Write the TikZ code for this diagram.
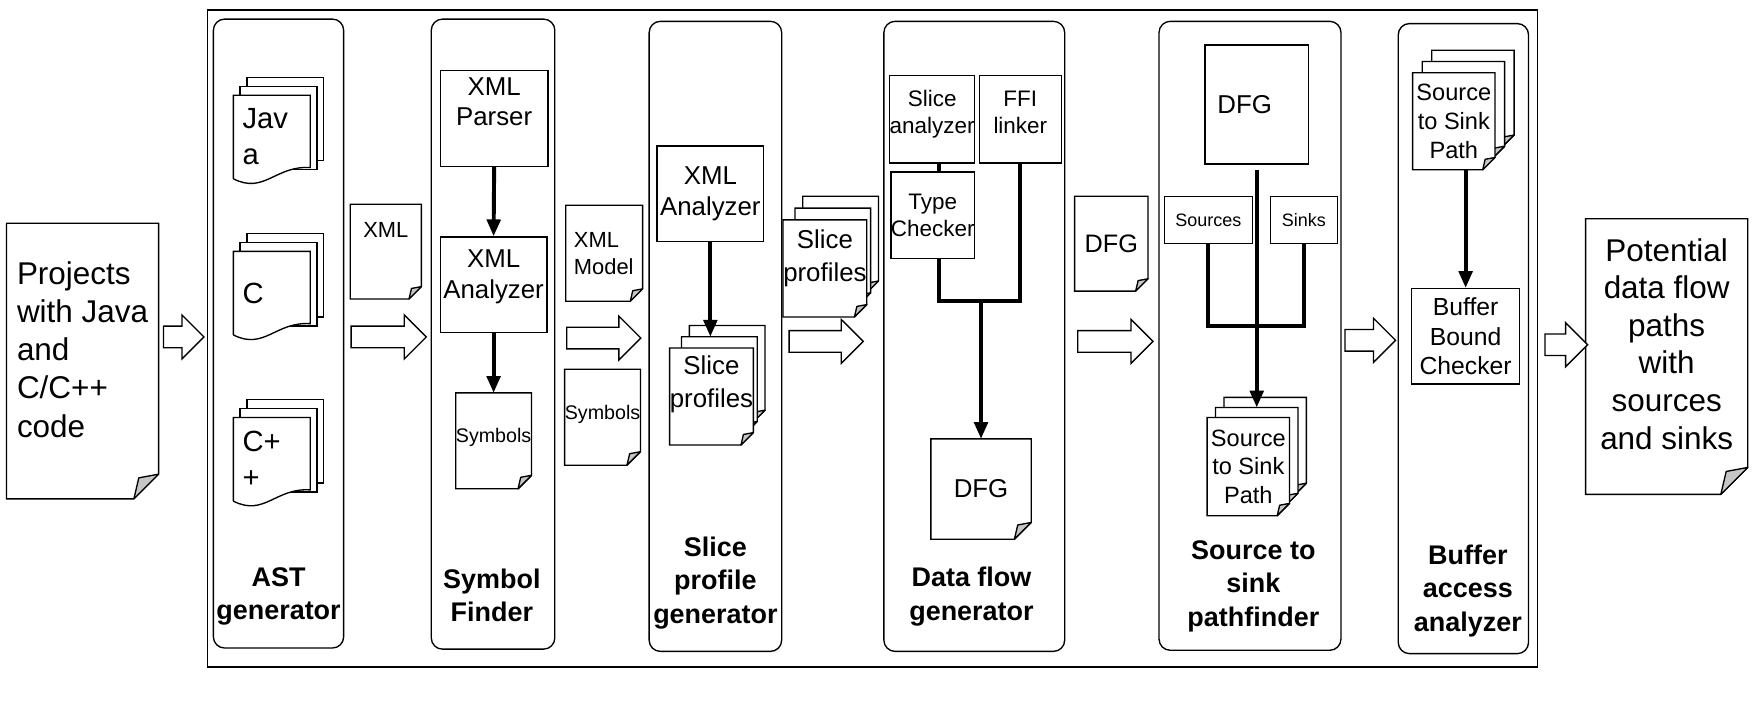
\documentclass[tikz,border=0pt]{standalone}
\usepackage{fontspec}
\setmainfont{Liberation Sans}
\usepackage{tikz}
\tikzset{>=latex}
\usetikzlibrary{
    positioning, % relative placement
    arrows.meta, % arrow tips
    calc, % coordinate arithmetic
    shapes.arrows, % hollow block arrows
    backgrounds % sheets go behind the texts
}
\newcommand{\fz}[2]{\fontsize{#1}{#2}\selectfont}
% sheet with a folded corner, drawn round a node
\newcommand{\notesheet}[2]{%
  \draw[paper] (#1.north west) -- (#1.north east) -- ([yshift=#2]#1.south east)
    -- ([xshift=-#2]#1.south east) -- (#1.south west) -- cycle;
  \draw[fold] ([xshift=-#2]#1.south east) -- ([yshift=#2]#1.south east)
    -- ([xshift=-0.8*#2,yshift=0.85*#2]#1.south east) -- cycle;
}
% sheet with a wavy lower edge
\newcommand{\wavesheet}[1]{%
  \draw[paper] (#1.south west) -- (#1.north west) -- (#1.north east) -- ([yshift=10pt]#1.south east)
    .. controls ($(#1.south west)!0.55!(#1.south east)+(0,-12)$)
    and ($(#1.south west)!0.4!(#1.south east)+(0,14)$) .. (#1.south west);
}
\newcommand{\plainsheet}[1]{%
  \draw[paper] (#1.north west) rectangle (#1.south east);
}

\begin{document}
\begin{tikzpicture}[x=1pt,y=-1pt]
    \tikzstyle{doc}   = [inner sep=0pt, text=black]
    \tikzstyle{box}   = [rectangle, draw=black, line width=1.2pt, inner sep=0pt, align=center]
    \tikzstyle{stage} = [rectangle, rounded corners=10pt, draw=black, line width=1.2pt, inner sep=0pt]
    \tikzstyle{stagename} = [font=\fz{24}{30}\bfseries, align=center, inner sep=0pt]
    \tikzstyle{bigarrow}  = [single arrow, draw=black, line width=1.2pt, fill=white, minimum width=38pt,
                             single arrow head extend=10pt, single arrow tip angle=90,
                             inner xsep=0pt, inner ysep=9pt, anchor=tail]
    \tikzstyle{flow}  = [-{Triangle[length=15pt,width=12pt]}, line width=3.5pt]
    \tikzstyle{link}  = [line width=3.5pt]
    \tikzstyle{paper} = [draw=black, fill=white, line width=1.2pt]
    \tikzstyle{fold}  = [draw=black, fill=gray!45, line width=1.2pt, line join=round]
    \tikzstyle{srcpage} = [doc, minimum width=68pt, minimum height=74pt]
    \useasboundingbox (0,0) rectangle (1568,636);

    % frame and stages
    \node[box, minimum width=1184pt, minimum height=585pt] (system) at (777,301.5) {};
    \node[stage, minimum width=116pt, minimum height=560pt] (ast)   at (248,297)    {};
    \node[stage, minimum width=110pt, minimum height=561pt] (symf)  at (439,297.5)  {};
    \node[stage, minimum width=118pt, minimum height=561pt] (spg)   at (637,299.5)  {};
    \node[stage, minimum width=161pt, minimum height=561pt] (dfgen) at (867.5,299.5) {};
    \node[stage, minimum width=162pt, minimum height=560pt] (pathf) at (1113,299)   {};
    \node[stage, minimum width=116pt, minimum height=561pt] (baa)   at (1303,301.5) {};
    \node[stagename] (astlbl)  at (248,531)  {AST\\generator};
    \node[stagename] (symlbl)  at (438,530)  {Symbol\\Finder};
    \node[stagename] (spglbl)  at (637,519)  {Slice\\profile\\generator};
    \node[stagename] (dfglbl)  at (865,531)  {Data flow\\generator};
    \node[stagename] (pathlbl) at (1116,522) {Source to\\sink\\pathfinder};
    \node[stagename] (baalbl)  at (1307,526) {Buffer\\access\\analyzer};

    % input and output
    \node[doc, minimum width=135pt, minimum height=245pt, align=left,
          font=\fz{28}{34}, text depth=21pt] (proj) at (73.5,321.5) {Projects\\with Java\\and\\C/C++\\code};
    \node[doc, minimum width=144pt, minimum height=245pt, align=center,
          font=\fz{28}{33.5}, text depth=23pt] (pot) at (1484,317.5) {Potential\\data flow\\paths\\with\\sources\\and sinks};

    % AST generator
    \node[srcpage, text width=52pt, align=left, font=\fz{26}{32}] (java1) at (242,122) {Jav\\a};
    \node[srcpage] (java2) at ([shift={(6,-8)}]java1) {};
    \node[srcpage] (java3) at ([shift={(6,-8)}]java2) {};
    \node[srcpage, text width=52pt, align=left, font=\fz{26}{32}] (c1) at (242,261) {C};
    \node[srcpage] (c2) at ([shift={(6,-8)}]c1) {};
    \node[srcpage] (c3) at ([shift={(6,-8)}]c2) {};
    \node[srcpage, text width=52pt, align=left, font=\fz{26}{32}] (cpp1) at (242,409) {C+\\+};
    \node[srcpage] (cpp2) at ([shift={(6,-8)}]cpp1) {};
    \node[srcpage] (cpp3) at ([shift={(6,-8)}]cpp2) {};
    \node[doc, minimum width=63pt, minimum height=84pt, font=\fz{19.5}{24}, text depth=38pt] (xml) at (343.5,224) {XML};

    % symbol finder
    \node[box, minimum width=96pt, minimum height=85pt, font=\fz{23}{27.5}, text depth=30pt] (xmlpar) at (440,105.5) {XML\\Parser};
    \node[box, minimum width=95pt, minimum height=85pt, font=\fz{23}{27.5}, text depth=19pt] (xmlana1) at (439.5,253.5) {XML\\Analyzer};
    \node[doc, minimum width=67pt, minimum height=85pt, font=\fz{17.5}{21}, text depth=10pt] (symb1) at (439.5,392.5) {Symbols};
    \node[doc, minimum width=68pt, minimum height=85pt, text width=54pt, align=left, font=\fz{19.5}{24}] (xmlmod) at (538,225.5) {XML\\Model};
    \node[doc, minimum width=67pt, minimum height=85pt, font=\fz{17.5}{21}, text depth=8pt] (symb2) at (536.5,371.5) {Symbols};
    \draw[flow] (xmlpar.south) -- (xmlana1.north);
    \draw[flow] (xmlana1) -- (symb1);

    % slice profile generator
    \node[box, minimum width=95pt, minimum height=85pt, font=\fz{23}{27.5}] (xmlana2) at (632.5,172.5) {XML\\Analyzer};
    \node[doc, minimum width=67pt, minimum height=86pt, align=center, font=\fz{23}{29}, text depth=26pt] (spf1) at (633.5,353) {Slice\\profiles};
    \node[doc, minimum width=67pt, minimum height=86pt] (spf2) at ([shift={(7,-10)}]spf1) {};
    \node[doc, minimum width=67pt, minimum height=86pt] (spf3) at ([shift={(7,-10)}]spf2) {};
    \node[doc, minimum width=67pt, minimum height=86pt, align=center, font=\fz{23}{29}, text depth=23pt] (spb1) at (734.5,239) {Slice\\profiles};
    \node[doc, minimum width=67pt, minimum height=86pt] (spb2) at ([shift={(7,-10.5)}]spb1) {};
    \node[doc, minimum width=67pt, minimum height=86pt] (spb3) at ([shift={(7,-10.5)}]spb2) {};
    \draw[flow] (xmlana2.south) -- (xmlana2.south |- spf2.north);

    % data flow generator
    \node[box, minimum width=72pt, minimum height=78pt, font=\fz{20}{24}, text depth=12pt] (slan) at (830,106) {Slice\\analyzer};
    \node[box, minimum width=73pt, minimum height=78pt, font=\fz{20}{24}, text depth=12pt] (ffi) at (908.5,106) {FFI\\linker};
    \node[box, minimum width=73pt, minimum height=77pt, font=\fz{20}{24}] (tchk) at (830.5,191.5) {Type\\Checker};
    \node[doc, minimum width=89pt, minimum height=89pt, font=\fz{23}{28}] (dfg1) at (873.5,435.5) {DFG};
    \node[doc, minimum width=65pt, minimum height=84pt, font=\fz{22.5}{28}] (dfgb) at (989.5,217) {DFG};
    \coordinate (join1) at (873.5,268);
    \draw[link] ([xshift=6pt]slan.south) -- ([xshift=5.5pt]tchk.north);
    \draw[link] ([xshift=5.5pt]tchk.south) |- (join1) -| (ffi.south);
    \draw[flow] (join1) -- (dfg1.north);

    % source to sink pathfinder
    \node[box, minimum width=92pt, minimum height=106pt, text width=70pt, align=left, font=\fz{23}{28}] (dfg2) at (1119,93) {DFG};
    \node[box, minimum width=78pt, minimum height=42pt, font=\fz{16}{19}] (src) at (1076,196) {Sources};
    \node[box, minimum width=60pt, minimum height=42pt, font=\fz{16}{19}] (snk) at (1161,196) {Sinks};
    \node[doc, minimum width=73pt, minimum height=87pt, align=center, font=\fz{21}{25.5}] (sts1) at (1111.5,415.5) {Source\\to Sink\\Path};
    \node[doc, minimum width=73pt, minimum height=87pt] (sts2) at ([shift={(7.5,-9)}]sts1) {};
    \node[doc, minimum width=73pt, minimum height=87pt] (sts3) at ([shift={(7.5,-9)}]sts2) {};
    \coordinate (join2) at (1119,290);
    \draw[link] (src.south) |- (join2) -| (snk.south);
    \draw[flow] ([yshift=-5pt]dfg2.south) -- (sts2.north);

    % buffer access analyzer
    \node[doc, minimum width=73pt, minimum height=86pt, align=center, font=\fz{21}{25.5}] (stp1) at (1294.5,108) {Source\\to Sink\\Path};
    \node[doc, minimum width=73pt, minimum height=86pt] (stp2) at ([shift={(8.5,-10)}]stp1) {};
    \node[doc, minimum width=73pt, minimum height=86pt] (stp3) at ([shift={(8.5,-10)}]stp2) {};
    \node[box, minimum width=96pt, minimum height=85pt, font=\fz{22}{26.5}] (bbc) at (1305,299.5) {Buffer\\Bound\\Checker};
    \draw[flow] (bbc.north |- stp1.south) -- (bbc.north);

    % block arrows between stages
    \node[bigarrow, minimum height=36pt] (barr1) at (145,300) {};
    \node[bigarrow, minimum height=67pt] (barr2) at (312,300) {};
    \node[bigarrow, minimum height=66pt] (barr3) at (504,301) {};
    \node[bigarrow, minimum height=66pt] (barr4) at (702,304) {};
    \node[bigarrow, minimum height=67pt] (barr5) at (959,304) {};
    \node[bigarrow, minimum height=45pt] (barr6) at (1197,303) {};
    \node[bigarrow, minimum height=38pt] (barr7) at (1375,307) {};

    % the sheets, behind their texts
    \begin{scope}[on background layer]
      \foreach \p in {java,c,cpp} {\plainsheet{\p3} \plainsheet{\p2} \wavesheet{\p1}}
      \foreach \s in {spf,spb,sts,stp} {\notesheet{\s3}{11pt} \notesheet{\s2}{11pt} \notesheet{\s1}{11pt}}
      \notesheet{proj}{22pt}
      \notesheet{pot}{24pt}
      \notesheet{xml}{11pt}
      \notesheet{xmlmod}{11pt}
      \notesheet{symb1}{12pt}
      \notesheet{symb2}{12pt}
      \notesheet{dfg1}{15pt}
      \notesheet{dfgb}{11pt}
    \end{scope}
\end{tikzpicture}
\end{document}
